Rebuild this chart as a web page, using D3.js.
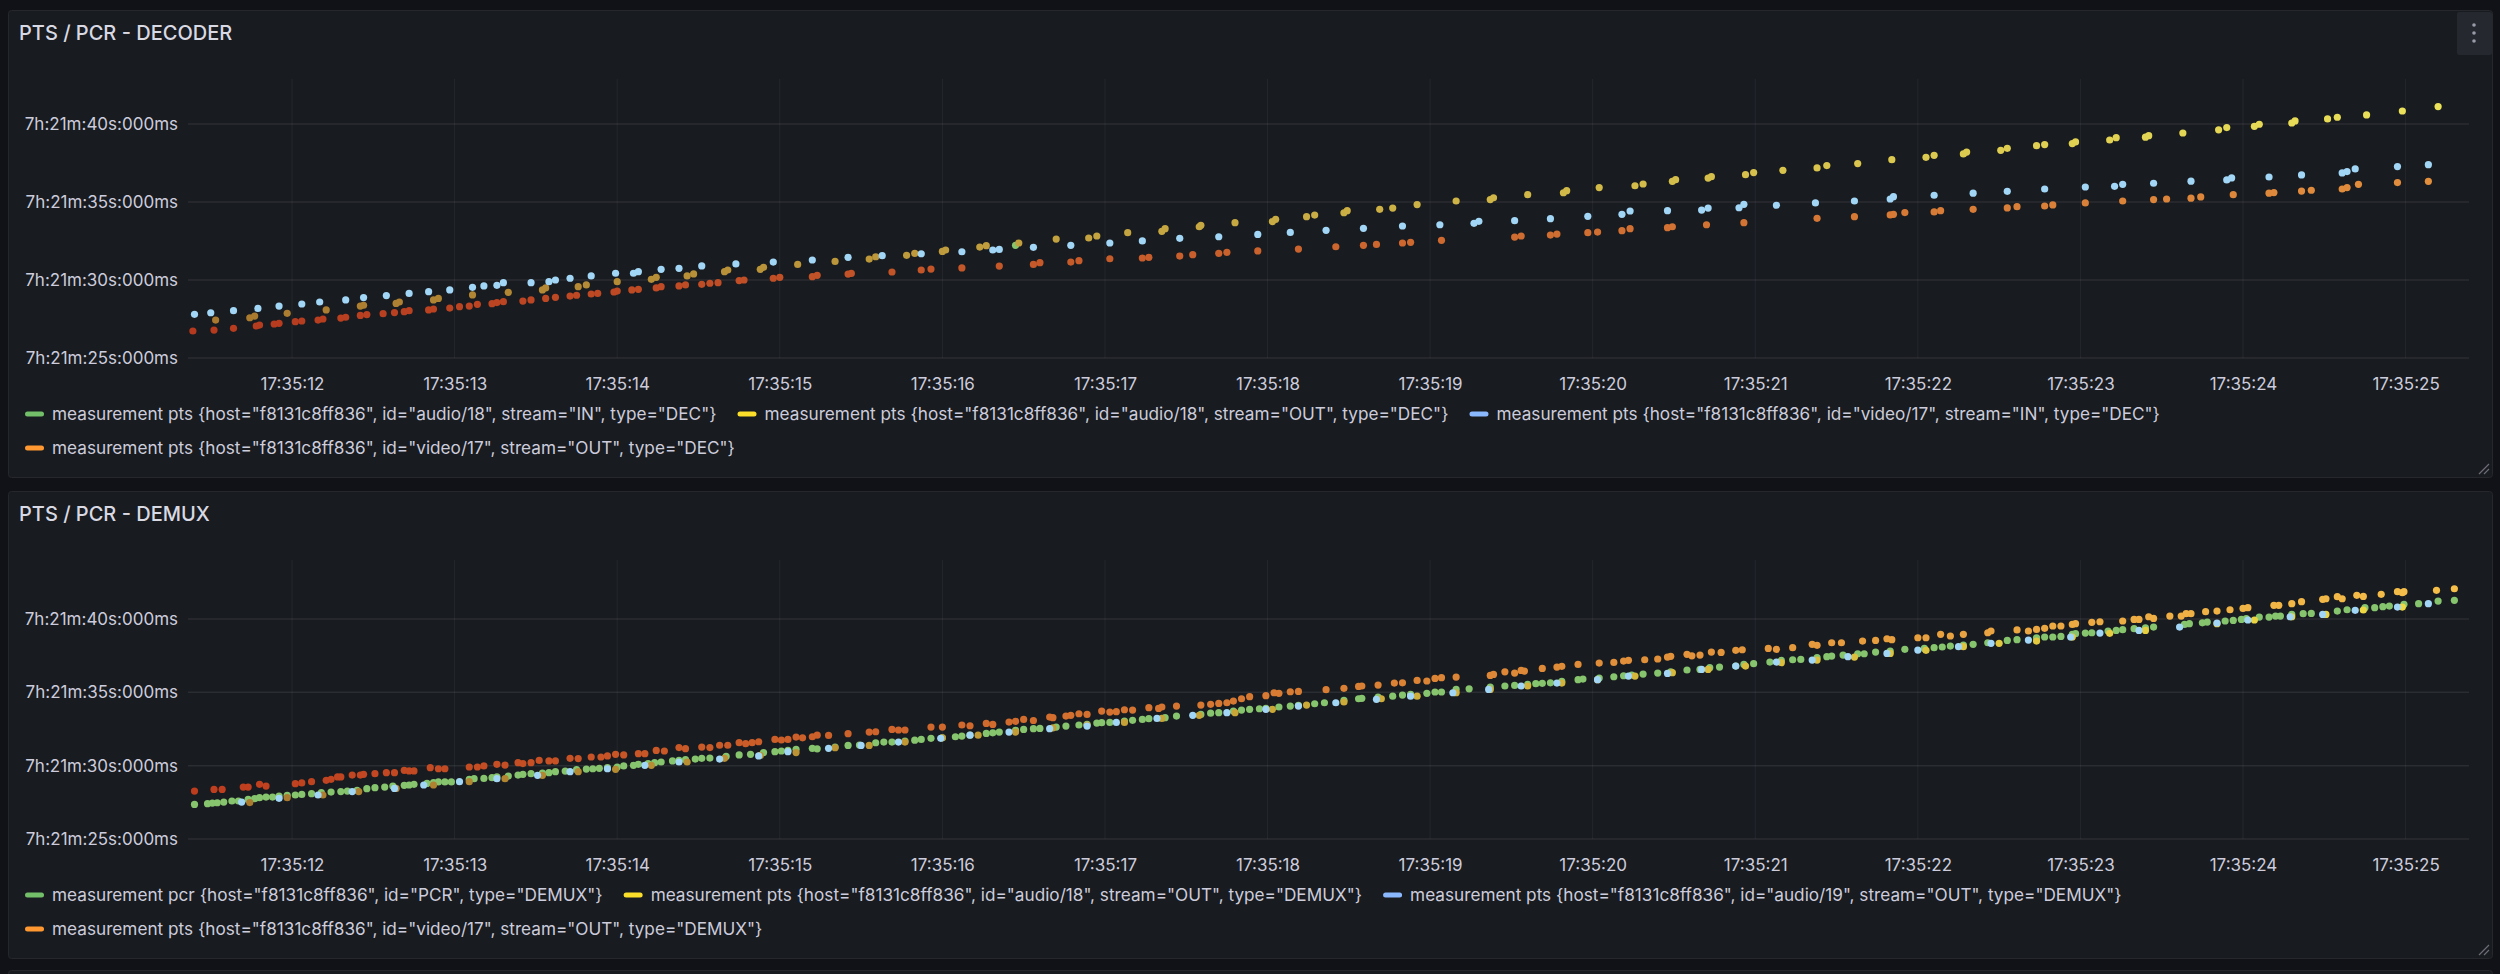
<!DOCTYPE html>
<html>
<head>
<meta charset="utf-8">
<script src="https://cdn.jsdelivr.net/npm/d3@7"></script>
<style>
  body { margin: 0; background: #111217; }
  svg { display: block; font-family: Inter, "Noto Sans", sans-serif; }
</style>
</head>
<body>
<svg id="chart" width="2500" height="974"></svg>
<script>
// time = seconds after 17:35:00, value = seconds after 7h:21m
const decoderTitle = "PTS / PCR - DECODER";
const demuxTitle = "PTS / PCR - DEMUX";

const decoderLabels = [
  'measurement pts {host="f8131c8ff836", id="audio/18", stream="IN", type="DEC"}',
  'measurement pts {host="f8131c8ff836", id="audio/18", stream="OUT", type="DEC"}',
  'measurement pts {host="f8131c8ff836", id="video/17", stream="IN", type="DEC"}',
  'measurement pts {host="f8131c8ff836", id="video/17", stream="OUT", type="DEC"}'
];
const demuxLabels = [
  'measurement pcr {host="f8131c8ff836", id="PCR", type="DEMUX"}',
  'measurement pts {host="f8131c8ff836", id="audio/18", stream="OUT", type="DEMUX"}',
  'measurement pts {host="f8131c8ff836", id="audio/19", stream="OUT", type="DEMUX"}',
  'measurement pts {host="f8131c8ff836", id="video/17", stream="OUT", type="DEMUX"}'
];

const timeRange = [11.36, 25.39];
const decoderValueRange = [25, 42.88];
const demuxValueRange = [25, 44.02];

// ---- decoder ----
const decAudioIn = [[16.45, 32.22]];

const decAudioOut = [
  [11.53,27.43],[11.74,27.58],[11.77,27.69],[11.97,27.86],[12.21,28.08],[12.42,28.33],[12.44,28.38],[12.64,28.50],
  [12.66,28.59],[12.87,28.72],[12.90,28.82],[13.11,29.04],[13.33,29.21],[13.54,29.36],[13.56,29.49],[13.76,29.57],
  [13.81,29.68],[14.00,29.89],[14.21,30.04],[14.24,30.17],[14.43,30.26],[14.47,30.39],[14.66,30.53],[14.68,30.64],
  [14.88,30.68],[14.90,30.81],[15.11,31.00],[15.34,31.19],[15.55,31.34],[15.59,31.49],[15.78,31.58],[15.83,31.71],
  [16.00,31.83],[16.02,31.92],[16.23,32.11],[16.27,32.20],[16.47,32.37],[16.70,32.62],[16.90,32.69],[16.95,32.82],
  [17.14,33.03],[17.35,33.12],[17.37,33.29],[17.58,33.41],[17.59,33.50],[17.80,33.67],[18.03,33.74],[18.05,33.89],
  [18.24,34.06],[18.29,34.16],[18.47,34.31],[18.49,34.44],[18.69,34.53],[18.77,34.61],[18.92,34.83],[19.16,35.06],
  [19.37,35.15],[19.39,35.27],[19.60,35.47],[19.82,35.59],[19.84,35.72],[20.04,35.92],[20.26,36.04],[20.31,36.15],
  [20.49,36.32],[20.51,36.43],[20.71,36.53],[20.73,36.62],[20.94,36.75],[20.99,36.88],[21.17,37.03],[21.38,37.18],
  [21.44,37.33],[21.63,37.46],[21.84,37.71],[22.05,37.86],[22.10,37.99],[22.28,38.08],[22.30,38.20],[22.51,38.31],
  [22.55,38.44],[22.73,38.61],[22.78,38.68],[22.95,38.74],[22.97,38.85],[23.18,38.97],[23.22,39.12],[23.40,39.15],
  [23.42,39.25],[23.63,39.42],[23.85,39.62],[23.90,39.77],[24.07,39.85],[24.10,39.98],[24.30,40.06],[24.32,40.19],
  [24.52,40.32],[24.58,40.43],[24.76,40.58],[24.98,40.83],[25.20,41.11]
];

const decVideoIn = [
  [11.40,27.80],[11.50,27.90],[11.64,28.03],[11.79,28.18],[11.92,28.33],[12.06,28.46],[12.17,28.59],[12.33,28.72],
  [12.44,28.87],[12.58,29.00],[12.72,29.14],[12.84,29.25],[12.97,29.36],[13.11,29.53],[13.18,29.62],[13.26,29.66],
  [13.30,29.83],[13.47,29.83],[13.58,29.89],[13.62,30.00],[13.71,30.11],[13.84,30.26],[13.99,30.43],[14.10,30.43],
  [14.13,30.53],[14.27,30.68],[14.38,30.75],[14.52,30.90],[14.73,31.03],[14.96,31.15],[15.20,31.28],[15.42,31.45],
  [15.63,31.56],[15.87,31.68],[16.12,31.81],[16.31,31.92],[16.35,31.96],[16.56,32.09],[16.79,32.22],[17.03,32.37],
  [17.23,32.50],[17.46,32.67],[17.70,32.77],[17.94,32.92],[18.14,33.05],[18.36,33.18],[18.59,33.31],[18.83,33.46],
  [19.06,33.54],[19.27,33.63],[19.30,33.76],[19.52,33.80],[19.74,33.93],[19.97,34.08],[20.18,34.21],[20.23,34.42],
  [20.46,34.44],[20.67,34.48],[20.71,34.61],[20.90,34.63],[20.93,34.85],[21.13,34.79],[21.37,34.94],[21.61,35.06],
  [21.83,35.19],[21.85,35.34],[22.10,35.43],[22.34,35.56],[22.55,35.68],[22.78,35.83],[23.03,35.96],[23.21,36.00],
  [23.26,36.13],[23.45,36.20],[23.68,36.33],[23.90,36.41],[23.93,36.54],[24.16,36.60],[24.36,36.73],[24.61,36.86],
  [24.64,36.95],[24.69,37.12],[24.95,37.27],[25.14,37.39]
];

const decVideoOut = [
  [11.39,26.73],[11.52,26.79],[11.64,26.90],[11.78,27.05],[11.80,27.11],[11.89,27.18],[11.92,27.22],[12.02,27.33],
  [12.06,27.37],[12.16,27.43],[12.19,27.50],[12.30,27.56],[12.33,27.61],[12.42,27.73],[12.46,27.78],[12.56,27.84],
  [12.63,27.91],[12.69,27.97],[12.72,28.03],[12.84,28.08],[12.87,28.14],[12.97,28.20],[13.03,28.29],[13.09,28.33],
  [13.14,28.44],[13.23,28.48],[13.26,28.55],[13.30,28.61],[13.42,28.65],[13.47,28.72],[13.56,28.82],[13.62,28.89],
  [13.71,28.97],[13.75,29.02],[13.84,29.10],[13.88,29.14],[13.98,29.23],[14.00,29.29],[14.09,29.36],[14.13,29.40],
  [14.24,29.49],[14.27,29.57],[14.38,29.62],[14.42,29.68],[14.52,29.72],[14.57,29.79],[14.62,29.83],[14.75,29.96],
  [14.78,30.00],[14.96,30.11],[15.00,30.17],[15.20,30.21],[15.23,30.30],[15.42,30.38],[15.44,30.42],[15.69,30.51],
  [15.87,30.64],[15.93,30.70],[16.12,30.77],[16.35,30.89],[16.56,31.00],[16.60,31.11],[16.79,31.15],[16.84,31.24],
  [17.03,31.36],[17.23,31.41],[17.27,31.45],[17.46,31.53],[17.54,31.62],[17.70,31.71],[17.75,31.77],[17.94,31.86],
  [18.19,31.98],[18.42,32.13],[18.59,32.22],[18.67,32.28],[18.83,32.37],[18.88,32.41],[19.07,32.54],[19.52,32.75],
  [19.56,32.82],[19.74,32.88],[19.78,32.94],[19.97,33.03],[20.03,33.07],[20.18,33.16],[20.23,33.29],[20.46,33.35],
  [20.49,33.41],[20.70,33.54],[20.93,33.67],[21.38,33.95],[21.61,34.06],[21.83,34.17],[21.85,34.21],[21.92,34.32],
  [22.10,34.36],[22.14,34.44],[22.34,34.53],[22.55,34.62],[22.61,34.70],[22.78,34.74],[22.83,34.81],[23.03,34.94],
  [23.26,35.06],[23.45,35.15],[23.53,35.19],[23.68,35.24],[23.74,35.32],[23.94,35.47],[24.16,35.56],[24.19,35.60],
  [24.36,35.70],[24.42,35.75],[24.61,35.83],[24.64,35.92],[24.71,36.13],[24.95,36.24],[25.14,36.32]
];

// ---- demux ----
const demPcr = [
  [11.40,27.36],[11.48,27.41],[11.51,27.45],[11.54,27.47],[11.58,27.52],[11.63,27.59],[11.67,27.59],[11.73,27.70],
  [11.77,27.75],[11.80,27.82],[11.84,27.86],[11.88,27.86],[11.92,27.93],[11.97,27.98],[12.02,28.00],[12.06,28.04],
  [12.12,28.09],[12.18,28.16],[12.24,28.20],[12.30,28.23],[12.34,28.27],[12.40,28.32],[12.46,28.43],[12.51,28.50],
  [12.57,28.54],[12.62,28.61],[12.69,28.66],[12.72,28.68],[12.75,28.73],[12.83,28.79],[12.87,28.84],[12.90,28.89],
  [12.94,28.89],[12.98,28.89],[13.09,29.07],[13.12,29.11],[13.18,29.13],[13.23,29.18],[13.26,29.23],[13.33,29.29],
  [13.39,29.36],[13.42,29.41],[13.47,29.45],[13.54,29.50],[13.58,29.52],[13.62,29.59],[13.68,29.63],[13.75,29.73],
  [13.81,29.77],[13.85,29.79],[13.89,29.82],[13.94,29.86],[14.00,29.91],[14.04,29.98],[14.10,30.02],[14.13,30.09],
  [14.19,30.14],[14.23,30.20],[14.27,30.25],[14.34,30.32],[14.38,30.36],[14.42,30.41],[14.48,30.45],[14.52,30.50],
  [14.57,30.52],[14.67,30.63],[14.75,30.73],[14.82,30.77],[14.90,30.89],[14.97,30.95],[15.01,31.00],[15.05,31.04],
  [15.10,31.11],[15.20,31.18],[15.23,31.15],[15.34,31.27],[15.42,31.38],[15.49,31.40],[15.59,31.56],[15.64,31.61],
  [15.69,31.61],[15.77,31.68],[15.83,31.74],[15.87,31.79],[15.93,31.86],[16.00,31.90],[16.08,31.97],[16.12,32.02],
  [16.17,32.08],[16.27,32.20],[16.31,32.24],[16.35,32.29],[16.45,32.40],[16.50,32.47],[16.56,32.52],[16.60,32.54],
  [16.70,32.63],[16.76,32.70],[16.84,32.77],[16.89,32.81],[16.95,32.90],[16.98,32.93],[17.03,32.95],[17.12,33.04],
  [17.17,33.09],[17.23,33.15],[17.27,33.20],[17.37,33.27],[17.44,33.38],[17.59,33.49],[17.65,33.58],[17.70,33.61],
  [17.79,33.72],[17.84,33.79],[17.89,33.84],[17.95,33.88],[17.99,33.90],[18.07,34.00],[18.14,34.06],[18.19,34.11],
  [18.29,34.22],[18.35,34.29],[18.47,34.45],[18.56,34.56],[18.58,34.59],[18.68,34.68],[18.77,34.74],[18.83,34.81],
  [18.88,34.86],[18.98,34.93],[19.03,35.02],[19.07,35.02],[19.16,35.20],[19.24,35.24],[19.37,35.36],[19.46,35.43],
  [19.52,35.47],[19.60,35.54],[19.65,35.59],[19.69,35.61],[19.74,35.65],[19.81,35.74],[19.91,35.86],[19.94,35.90],
  [20.04,35.97],[20.13,36.06],[20.19,36.13],[20.24,36.18],[20.31,36.24],[20.40,36.31],[20.48,36.40],[20.58,36.52],
  [20.66,36.56],[20.72,36.68],[20.78,36.72],[20.88,36.79],[20.93,36.90],[20.99,36.95],[21.09,37.06],[21.16,37.18],
  [21.23,37.22],[21.28,37.24],[21.38,37.36],[21.44,37.43],[21.47,37.47],[21.54,37.54],[21.63,37.63],[21.67,37.63],
  [21.74,37.74],[21.83,37.81],[21.92,37.93],[22.04,37.99],[22.10,38.04],[22.15,38.09],[22.20,38.15],[22.28,38.22],
  [22.34,38.27],[22.43,38.38],[22.55,38.54],[22.61,38.59],[22.73,38.72],[22.78,38.77],[22.83,38.77],[22.88,38.81],
  [22.95,38.95],[22.97,39.00],[23.03,39.04],[23.07,39.06],[23.17,39.18],[23.22,39.22],[23.26,39.27],[23.33,39.34],
  [23.40,39.40],[23.45,39.45],[23.64,39.63],[23.67,39.68],[23.75,39.74],[23.78,39.79],[23.89,39.86],[23.94,39.90],
  [23.99,39.97],[24.02,40.02],[24.10,40.13],[24.16,40.13],[24.20,40.20],[24.23,40.20],[24.30,40.31],[24.37,40.36],
  [24.42,40.38],[24.58,40.54],[24.64,40.63],[24.75,40.77],[24.81,40.77],[24.86,40.84],[24.90,40.88],[24.99,41.00],
  [25.08,41.04],[25.20,41.22],[25.30,41.27]
];

const demAudio18 = [
  [11.74,27.48],[11.97,27.82],[12.19,28.00],[12.41,28.23],[12.64,28.45],[12.87,28.68],[13.09,28.91],[13.31,29.11],
  [13.54,29.34],[13.76,29.59],[13.99,29.75],[14.21,30.02],[14.43,30.25],[14.66,30.50],[14.88,30.70],[15.10,30.89],
  [15.34,31.22],[15.55,31.38],[15.77,31.61],[16.00,31.90],[16.22,32.08],[16.45,32.29],[16.68,32.58],[16.89,32.77],
  [17.12,32.95],[17.35,33.22],[17.58,33.43],[17.80,33.61],[18.03,33.84],[18.24,34.13],[18.47,34.34],[18.70,34.56],
  [18.92,34.74],[19.16,34.97],[19.37,35.20],[19.60,35.43],[19.81,35.63],[20.03,35.86],[20.26,36.11],[20.49,36.34],
  [20.71,36.56],[20.94,36.79],[21.16,37.02],[21.38,37.20],[21.61,37.40],[21.83,37.65],[22.05,37.86],[22.28,38.11],
  [22.50,38.34],[22.73,38.49],[22.95,38.77],[23.18,39.02],[23.40,39.22],[23.84,39.68],[24.07,39.93],[24.30,40.15],
  [24.51,40.31],[24.74,40.61],[24.98,40.81]
];

const demAudio19 = [
  [11.69,27.52],[11.92,27.77],[12.16,28.00],[12.37,28.23],[12.63,28.45],[12.81,28.68],[13.03,28.91],[13.26,29.11],
  [13.51,29.34],[13.71,29.59],[13.94,29.79],[14.17,30.02],[14.38,30.25],[14.63,30.45],[14.87,30.66],[15.05,30.95],
  [15.30,31.18],[15.50,31.38],[15.73,31.61],[15.99,31.86],[16.17,32.08],[16.41,32.29],[16.66,32.52],[16.89,32.70],
  [17.07,32.95],[17.32,33.22],[17.54,33.43],[17.75,33.61],[17.99,33.84],[18.19,34.06],[18.42,34.29],[18.67,34.52],
  [18.88,34.74],[19.14,34.97],[19.36,35.20],[19.56,35.43],[19.78,35.63],[20.03,35.86],[20.22,36.11],[20.46,36.29],
  [20.67,36.56],[20.88,36.79],[21.13,37.06],[21.35,37.20],[21.57,37.43],[21.81,37.65],[22.00,37.88],[22.25,38.11],
  [22.45,38.34],[22.68,38.56],[22.94,38.77],[23.12,39.04],[23.36,39.22],[23.61,39.45],[23.84,39.72],[24.03,39.93],
  [24.29,40.15],[24.49,40.31],[24.69,40.59],[24.95,40.81],[25.14,41.04]
];

const demVideo17 = [
  [11.40,28.27],[11.52,28.38],[11.57,28.38],[11.70,28.54],[11.73,28.54],[11.80,28.73],[11.84,28.61],[12.02,28.77],
  [12.06,28.82],[12.12,28.91],[12.21,29.00],[12.24,29.07],[12.28,29.23],[12.30,29.23],[12.37,29.36],[12.42,29.36],
  [12.44,29.41],[12.51,29.45],[12.58,29.52],[12.63,29.52],[12.69,29.68],[12.72,29.64],[12.75,29.64],[12.85,29.86],
  [12.90,29.79],[12.94,29.79],[13.09,29.91],[13.14,29.91],[13.18,29.98],[13.26,30.09],[13.31,30.04],[13.39,30.20],
  [13.42,30.14],[13.47,30.20],[13.52,30.36],[13.58,30.32],[13.62,30.32],[13.71,30.50],[13.76,30.48],[13.84,30.59],
  [13.90,30.59],[13.94,30.66],[13.99,30.77],[14.04,30.73],[14.13,30.82],[14.17,30.82],[14.24,31.04],[14.29,31.00],
  [14.38,31.23],[14.42,31.16],[14.52,31.27],[14.57,31.23],[14.63,31.39],[14.68,31.39],[14.75,31.57],[14.79,31.50],
  [14.83,31.57],[14.87,31.63],[14.97,31.79],[15.01,31.75],[15.05,31.79],[15.10,31.95],[15.14,31.90],[15.20,31.97],
  [15.23,32.08],[15.30,32.06],[15.42,32.18],[15.55,32.29],[15.59,32.31],[15.69,32.47],[15.73,32.43],[15.77,32.43],
  [15.93,32.63],[16.00,32.63],[16.12,32.77],[16.17,32.72],[16.27,32.88],[16.31,32.81],[16.41,32.97],[16.45,33.02],
  [16.50,33.15],[16.56,33.08],[16.66,33.31],[16.68,33.27],[16.76,33.38],[16.79,33.43],[16.84,33.54],[16.89,33.49],
  [16.98,33.72],[17.03,33.65],[17.07,33.68],[17.12,33.81],[17.17,33.79],[17.27,33.95],[17.33,33.90],[17.35,34.00],
  [17.44,34.06],[17.59,34.13],[17.65,34.18],[17.70,34.24],[17.75,34.29],[17.79,34.40],[17.84,34.56],[17.89,34.70],
  [17.99,34.77],[18.04,34.97],[18.07,34.93],[18.14,35.04],[18.19,35.06],[18.36,35.18],[18.47,35.27],[18.56,35.40],
  [18.58,35.43],[18.68,35.49],[18.78,35.63],[18.83,35.65],[18.92,35.81],[18.98,35.77],[19.03,35.95],[19.07,36.00],
  [19.16,36.04],[19.37,36.15],[19.39,36.22],[19.46,36.40],[19.52,36.31],[19.56,36.49],[19.58,36.45],[19.69,36.63],
  [19.78,36.72],[19.81,36.77],[19.91,36.90],[20.04,36.99],[20.13,37.04],[20.19,37.13],[20.22,37.18],[20.32,37.22],
  [20.40,37.27],[20.46,37.40],[20.48,37.45],[20.58,37.59],[20.61,37.49],[20.66,37.54],[20.73,37.74],[20.79,37.72],
  [20.88,37.86],[20.92,37.90],[21.08,37.99],[21.13,37.93],[21.23,38.04],[21.35,38.27],[21.38,38.20],[21.47,38.38],
  [21.53,38.38],[21.66,38.49],[21.74,38.54],[21.81,38.65],[21.84,38.59],[22.00,38.72],[22.05,38.72],[22.14,38.95],
  [22.20,38.84],[22.28,38.95],[22.43,39.06],[22.45,39.18],[22.61,39.25],[22.68,39.18],[22.73,39.29],[22.78,39.36],
  [22.83,39.52],[22.88,39.52],[22.95,39.63],[22.97,39.68],[23.07,39.77],[23.12,39.81],[23.26,39.86],[23.33,39.97],
  [23.36,39.97],[23.42,40.15],[23.45,40.04],[23.55,40.20],[23.62,40.20],[23.65,40.36],[23.68,40.36],[23.77,40.50],
  [23.84,40.54],[23.92,40.63],[24.00,40.72],[24.03,40.77],[24.19,40.93],[24.22,40.93],[24.30,41.04],[24.36,41.18],
  [24.49,41.34],[24.51,41.38],[24.58,41.52],[24.61,41.38],[24.70,41.61],[24.74,41.54],[24.85,41.68],[24.95,41.86],
  [24.98,41.79],[24.99,41.86],[25.19,41.95],[25.30,42.06]
];

const legendColors = ["#73bf69", "#fade2a", "#8ab8ff", "#ff9830"];

const svg = d3.select("#chart");
const base = new Date(2024, 0, 1, 17, 35, 0).getTime();
const toDate = s => new Date(base + s * 1000);

function formatDuration(sec) {
    const total = (7 * 3600 + 21 * 60) * 1000 + Math.round(sec * 1000);
    const h = Math.floor(total / 3600000);
    const m = Math.floor(total / 60000) % 60;
    const s = Math.floor(total / 1000) % 60;
    const ms = total % 1000;
    return `${h}h:${m}m:${s}s:${String(ms).padStart(3, "0")}ms`;
}

const plotLeft = 188, plotRight = 2469;

function drawPanel(top, title, valueRange, series, labels, withMenu) {
    const g = svg.append("g").attr("transform", `translate(0,${top})`);
    g.append("rect")
        .attr("x", 8.5).attr("y", 0.5)
        .attr("width", 2484).attr("height", 467)
        .attr("rx", 3)
        .attr("fill", "#181b1f")
        .attr("stroke", "#25272d");

    g.append("text")
        .attr("x", 19).attr("y", 23)
        .attr("dy", "0.35em")
        .attr("fill", "#d8d9e3")
        .attr("font-size", 20)
        .attr("font-weight", 500)
        .text(title);

    const plotTop = 69, plotBottom = 348;
    const x = d3.scaleTime()
        .domain(timeRange.map(toDate))
        .range([plotLeft, plotRight]);
    const y = d3.scaleLinear()
        .domain(valueRange)
        .range([plotBottom, plotTop]);

    const xTicks = x.ticks(d3.timeSecond.every(1));
    const yTicks = y.ticks(4);

    // grid
    g.append("g").selectAll("line.v")
        .data(xTicks).enter().append("line")
        .attr("x1", d => x(d)).attr("x2", d => x(d))
        .attr("y1", plotTop).attr("y2", plotBottom)
        .attr("stroke", "rgba(204,204,220,0.07)");
    g.append("g").selectAll("line.h")
        .data(yTicks).enter().append("line")
        .attr("x1", plotLeft).attr("x2", plotRight)
        .attr("y1", d => y(d)).attr("y2", d => y(d))
        .attr("stroke", "rgba(204,204,220,0.1)")
        .attr("stroke-width", 1.5);

    // axes
    const xAxis = g.append("g")
        .attr("transform", `translate(0,${plotBottom})`)
        .call(d3.axisBottom(x).tickValues(xTicks).tickFormat(d3.timeFormat("%H:%M:%S")).tickSize(0).tickPadding(20));
    xAxis.select(".domain").remove();
    xAxis.selectAll("text").attr("fill", "#ccccdc").attr("font-size", 17).attr("font-family", "Inter");

    const yAxis = g.append("g")
        .attr("transform", `translate(178,0)`)
        .call(d3.axisLeft(y).tickValues(yTicks).tickFormat(formatDuration).tickSize(0).tickPadding(0));
    yAxis.select(".domain").remove();
    yAxis.selectAll("text").attr("fill", "#ccccdc").attr("font-size", 17).attr("font-family", "Inter");

    // points
    const clipId = "clip" + top;
    g.append("clipPath").attr("id", clipId)
        .append("rect").attr("x", plotLeft).attr("y", plotTop - 6)
        .attr("width", plotRight - plotLeft + 6).attr("height", plotBottom - plotTop + 6);
    const pts = g.append("g").attr("clip-path", `url(#${clipId})`);
    series.forEach(s => {
        const shade = s.colors
            ? d3.scaleLinear().domain(timeRange).range(s.colors).interpolate(d3.interpolateRgb)
            : () => s.color;
        pts.append("g").selectAll("circle")
            .data(s.data).enter().append("circle")
            .attr("cx", d => x(toDate(d[0])))
            .attr("cy", d => y(d[1]))
            .attr("r", 3.6)
            .attr("fill", d => shade(d[0]));
    });

    // legend
    const legend = g.append("g");
    let lx = 25, row = 0;
    labels.forEach((label, i) => {
        const item = legend.append("g");
        const t = item.append("text")
            .attr("x", 27).attr("dy", "0.35em")
            .attr("fill", "#ccccdc")
            .attr("font-size", 17.2)
            .text(label);
        const w = 27 + t.node().getComputedTextLength();
        if (lx + w > 2470) { lx = 25; row += 1; }
        item.attr("transform", `translate(${lx},${404 + row * 34})`);
        item.append("rect")
            .attr("x", 0).attr("y", -2.5)
            .attr("width", 19).attr("height", 5)
            .attr("rx", 2.5)
            .attr("fill", legendColors[i]);
        lx += w + 21;
    });

    // resize handle
    g.append("path")
        .attr("d", "M2479,464 L2489,454 M2484,464 L2489,459")
        .attr("stroke", "#6c6d78").attr("stroke-width", 1.2);

    if (withMenu) {
        g.append("rect")
            .attr("x", 2457).attr("y", 2).attr("width", 35).attr("height", 43)
            .attr("rx", 2).attr("fill", "#25282e");
        g.append("g").selectAll("circle")
            .data([-8, 0, 8]).enter().append("circle")
            .attr("cx", 2474).attr("cy", d => 23 + d)
            .attr("r", 1.8).attr("fill", "#9a9aa8");
    }
}

drawPanel(10, decoderTitle, decoderValueRange, [
    { data: decAudioIn, color: "#86c46e" },
    { data: decAudioOut, colors: ["#a8782e", "#ece35a"] },
    { data: decVideoIn, color: "#a2d6f6" },
    { data: decVideoOut, colors: ["#b5391e", "#e2903e"] }
], decoderLabels, true);

drawPanel(491, demuxTitle, demuxValueRange, [
    { data: demPcr, color: "#86c46e" },
    { data: demAudio18, colors: ["#a8782e", "#f0dc44"] },
    { data: demAudio19, color: "#a2d6f6" },
    { data: demVideo17, colors: ["#bd3c1e", "#f6c04a"] }
], demuxLabels, false);

// top edge of the next panel
svg.append("rect")
    .attr("x", 8.5).attr("y", 970.5)
    .attr("width", 2484).attr("height", 20)
    .attr("rx", 3)
    .attr("fill", "#181b1f")
    .attr("stroke", "#25272d");
</script>
</body>
</html>
